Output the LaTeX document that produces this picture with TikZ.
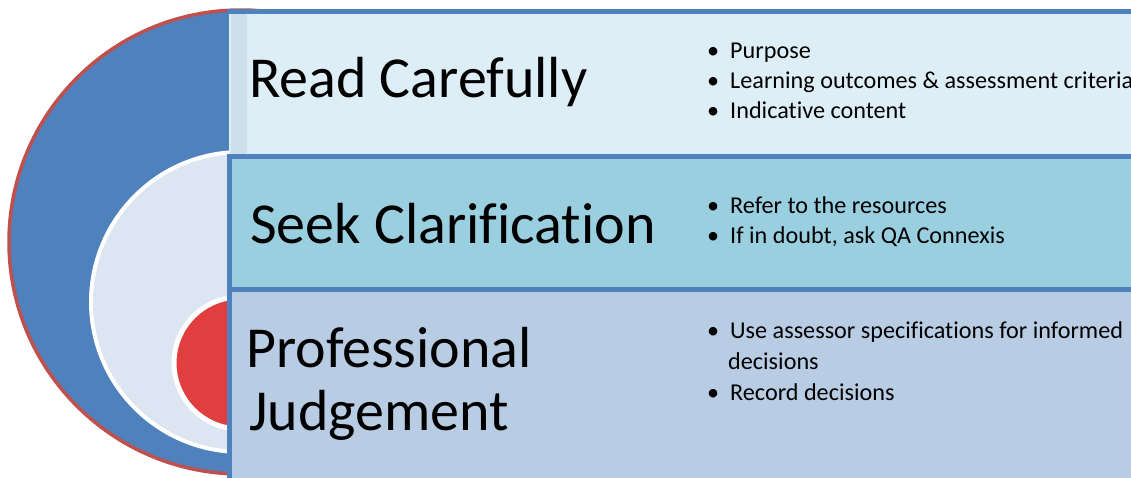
\documentclass[tikz,border=0pt]{standalone}
\usepackage{fontspec}
\setmainfont[Ligatures={NoCommon}]{Carlito}
\definecolor{ringblue}{HTML}{4F81BD}
\definecolor{ringred}{HTML}{C0504D}
\definecolor{midfill}{HTML}{DCE6F2}
\definecolor{corered}{HTML}{E03E3F}
\definecolor{bandA}{HTML}{DEEEF6}
\definecolor{bandAstrip}{HTML}{CBE0EB}
\definecolor{bandB}{HTML}{9ACFE0}
\definecolor{bandC}{HTML}{B8CCE4}
\newcommand{\bul}[1]{\makebox[23pt][l]{\textbullet}#1}
\begin{document}
\begin{tikzpicture}[x=1pt,y=-1pt,
  title/.style={anchor=base west, inner sep=0pt, font=\fontsize{58}{65}\selectfont},
  item/.style={anchor=base west, inner sep=0pt, font=\fontsize{24.2}{30}\selectfont},
  edge/.style={draw=ringblue, line width=5pt}]
\useasboundingbox (0,0) rectangle (1131,477);
\fill[white] (0,0) rectangle (1131,477);

% nested rings on the left
\draw[ringred, line width=3.5pt, fill=ringblue] (241,242) circle (232pt);
\draw[white, line width=4pt, fill=midfill] (241,302) circle (150pt);
\draw[white, line width=5pt, fill=corered] (240,363) circle (66pt);

% three horizontal bands
\fill[bandC] (229,289) rectangle (1140,485);
\fill[bandB] (229,156.5) rectangle (1140,289);
\fill[bandA] (229,11.5) rectangle (1140,156.5);
\fill[bandAstrip] (231,14) rectangle (247,154);
\draw[edge] (226.5,11.5) -- (1140,11.5);
\draw[edge] (229,485) -- (229,156.5) -- (1140,156.5);
\draw[edge] (229,289) -- (1140,289);

% band titles
\node[title] (t1) at (249,97) {Read Carefully};
\node[title] (t2) at (250,243) {Seek Clarification};
\node[title] (t3) at (246,367) {Professional};
\node[title] (t4) at (249,430) {Judgement};

% bullet lists
\node[item] (a1) at (707,58) {\bul{Purpose}};
\node[item] (a2) at (707,88) {\bul{Learning outcomes \& assessment criteria}};
\node[item] (a3) at (707,118) {\bul{Indicative content}};
\node[item] (b1) at (707,213) {\bul{Refer to the resources}};
\node[item] (b2) at (707,243) {\bul{If in doubt, ask QA Connexis}};
\node[item] (c1) at (707,338) {\bul{Use assessor specifications for informed}};
\node[item] (c2) at (728,369) {decisions};
\node[item] (c3) at (707,400) {\bul{Record decisions}};
\end{tikzpicture}
\end{document}
